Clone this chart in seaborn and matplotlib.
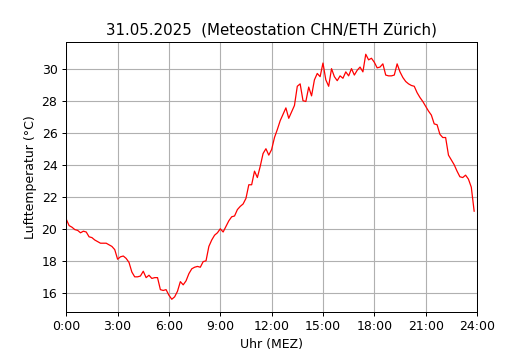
import matplotlib
matplotlib.use("Agg")
import matplotlib.pyplot as plt
import seaborn as sns
import numpy as np
import pandas as pd

# 10-minute values, 0:00 .. 23:50, grouped by hour
h00 = [20.6, 20.2, 20.1, 19.95, 19.9, 19.75]
h01 = [19.85, 19.8, 19.5, 19.45, 19.3, 19.2]
h02 = [19.1, 19.1, 19.1, 19.0, 18.9, 18.7]
h03 = [18.1, 18.25, 18.3, 18.15, 17.9, 17.3]
h04 = [17.0, 17.0, 17.05, 17.35, 16.95, 17.1]
h05 = [16.9, 16.95, 16.95, 16.2, 16.15, 16.2]
h06 = [15.85, 15.6, 15.75, 16.1, 16.7, 16.5]
h07 = [16.75, 17.2, 17.5, 17.6, 17.65, 17.6]
h08 = [17.95, 18.0, 18.9, 19.3, 19.6, 19.75]
h09 = [20.0, 19.8, 20.15, 20.5, 20.75, 20.8]
h10 = [21.2, 21.4, 21.55, 21.9, 22.75, 22.75]
h11 = [23.6, 23.2, 23.9, 24.7, 25.0, 24.6]
h12 = [24.95, 25.7, 26.2, 26.75, 27.15, 27.55]
h13 = [26.9, 27.3, 27.7, 28.9, 29.05, 28.0]
h14 = [27.95, 28.85, 28.3, 29.3, 29.7, 29.5]
h15 = [30.35, 29.3, 28.9, 30.0, 29.5, 29.25]
h16 = [29.55, 29.4, 29.8, 29.55, 30.0, 29.6]
h17 = [29.9, 30.1, 29.8, 30.9, 30.55, 30.65]
h18 = [30.4, 30.05, 30.1, 30.3, 29.6, 29.55]
h19 = [29.55, 29.6, 30.3, 29.8, 29.45, 29.2]
h20 = [29.05, 28.95, 28.9, 28.5, 28.2, 27.95]
h21 = [27.65, 27.35, 27.1, 26.55, 26.5, 25.9]
h22 = [25.7, 25.7, 24.6, 24.3, 24.0, 23.6]
h23 = [23.25, 23.2, 23.35, 23.1, 22.6, 21.1]

temps = (h00 + h01 + h02 + h03 + h04 + h05 + h06 + h07 + h08 + h09 + h10 + h11 +
         h12 + h13 + h14 + h15 + h16 + h17 + h18 + h19 + h20 + h21 + h22 + h23)
minutes = list(range(0, 24 * 60, 10))

tick_hours = [0, 3, 6, 9, 12, 15, 18, 21, 24]
tick_labels = ["0:00", "3:00", "6:00", "9:00", "12:00", "15:00", "18:00", "21:00", "24:00"]

df = pd.DataFrame({"hour": [m / 60 for m in minutes], "temp": temps})

DPI = 90
fig, ax = plt.subplots(figsize=(530 / DPI, 350 / DPI), dpi=DPI)
sns.lineplot(data=df, x="hour", y="temp", color="red", linewidth=1.0, ax=ax)
ax.set_xlim(0, 24)
ax.set_xticks(tick_hours)
ax.set_xticklabels(tick_labels)
ax.grid(True, color="#b0b0b0", linewidth=0.9)
ax.set_axisbelow(True)
ax.set_xlabel("Uhr (MEZ)")
ax.set_ylabel("Lufttemperatur (°C)")
ax.set_title("31.05.2025  (Meteostation CHN/ETH Zürich)")
fig.savefig("out.png", dpi=DPI)
